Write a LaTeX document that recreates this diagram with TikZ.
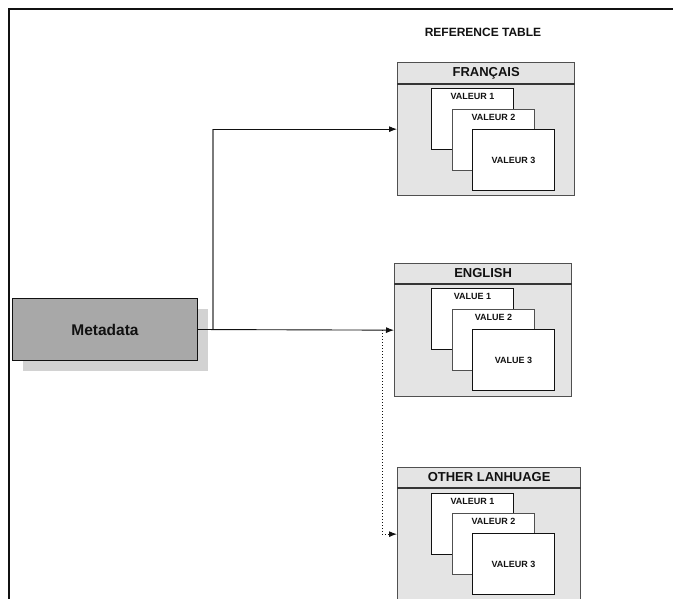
\documentclass[tikz,border=0pt]{standalone}
\usepackage{fontspec}
\setmainfont{Liberation Sans}
\usetikzlibrary{arrows.meta,calc,shadows}
\definecolor{ink}{HTML}{111111}
\definecolor{rim}{HTML}{505050}
\definecolor{panel}{HTML}{E4E4E4}
\definecolor{metafill}{HTML}{A8A8A8}
\definecolor{shade}{HTML}{D2D2D2}
\definecolor{wire}{HTML}{7A7A7A}
\tikzset{
  >=Latex,
  every node/.style={font=\bfseries,text=ink},
  frame/.style={draw=ink,line width=1.8pt},
  langtable/.style={draw=rim,line width=1.3pt,fill=panel,minimum width=177pt,minimum height=133pt,anchor=north west,inner sep=0pt},
  headline/.style={draw=ink!85,line width=1.1pt},
  headtext/.style={font=\fontsize{13}{15}\selectfont\bfseries},
  valbox/.style={draw=ink,line width=0.9pt,fill=white,minimum width=82pt,minimum height=61pt,anchor=north west,inner sep=0pt},
  valtext/.style={font=\fontsize{9}{10}\selectfont\bfseries},
  metabox/.style={draw=ink,line width=1pt,fill=metafill,minimum width=185pt,minimum height=62pt,anchor=north west,
    font=\fontsize{15.5}{18}\selectfont\bfseries,drop shadow={shadow xshift=10pt,shadow yshift=-10pt,fill=shade,opacity=1}},
  arrow/.style={->,line width=0.9pt,draw=ink,>={Latex[length=8pt,width=6pt]}},
  graywire/.style={line width=1.4pt,draw=wire},
  dotarr/.style={->,line width=1pt,dotted,draw=ink,>={Latex[length=8pt,width=6pt]}}
}
\begin{document}
\begin{tikzpicture}[x=1pt,y=-1pt]
  \path[use as bounding box,clip] (0,0) rectangle (673,598);
  \draw[frame] (9,600) -- (9,9) -- (675,9);

  \node[font=\fontsize{12}{14}\selectfont\bfseries] (title) at (483,32) {REFERENCE TABLE};

  % language tables
  \node[langtable] (fr) at (397,62) {};
  \draw[headline] ([yshift=-22pt]fr.north west) -- ([yshift=-22pt]fr.north east);
  \node[headtext] (frhead) at ([yshift=-11pt]fr.north) {FRANÇAIS};
  \node[valbox] (fr1) at (431,88) {};
  \node[valbox,draw=rim] (fr2) at (452,109) {};
  \node[valbox] (fr3) at (472,129) {};
  \node[valtext] at ([yshift=-8pt]fr1.north) {VALEUR 1};
  \node[valtext] at ([yshift=-8pt]fr2.north) {VALEUR 2};
  \node[valtext] at (fr3.center) {VALEUR 3};

  \node[langtable] (en) at (394,263) {};
  \draw[headline] ([yshift=-21pt]en.north west) -- ([yshift=-21pt]en.north east);
  \node[headtext] (enhead) at ([yshift=-10.5pt]en.north) {ENGLISH};
  \node[valbox] (en1) at (431,288) {};
  \node[valbox,draw=rim] (en2) at (452,309) {};
  \node[valbox] (en3) at (472,329) {};
  \node[valtext] at ([yshift=-8pt]en1.north) {VALUE 1};
  \node[valtext] at ([yshift=-8pt]en2.north) {VALUE 2};
  \node[valtext] at (en3.center) {VALUE 3};

  \node[langtable,minimum width=183pt] (ot) at (397,467) {};
  \draw[headline] ([yshift=-21pt]ot.north west) -- ([yshift=-21pt]ot.north east);
  \node[headtext] (othead) at ([yshift=-10.5pt]ot.north) {OTHER LANHUAGE};
  \node[valbox] (ot1) at (431,493) {};
  \node[valbox,draw=rim] (ot2) at (452,513) {};
  \node[valbox] (ot3) at (472,533) {};
  \node[valtext] at ([yshift=-8pt]ot1.north) {VALEUR 1};
  \node[valtext] at ([yshift=-8pt]ot2.north) {VALEUR 2};
  \node[valtext] at (ot3.center) {VALEUR 3};

  % source
  \node[metabox] (meta) at (12,298) {Metadata};

  % connectors
  \coordinate (split) at ($(meta.east)+(15,0)$);
  \coordinate (drop) at ($(en.west)+(-12,0)$);
  \draw[graywire] (split) -- (split |- fr.west);
  \draw[arrow] (split |- fr.west) -- (fr.west);
  \draw[arrow] (meta.east) -- (en.west);
  \draw[dotarr] (drop) |- (ot.west);
\end{tikzpicture}
\end{document}
